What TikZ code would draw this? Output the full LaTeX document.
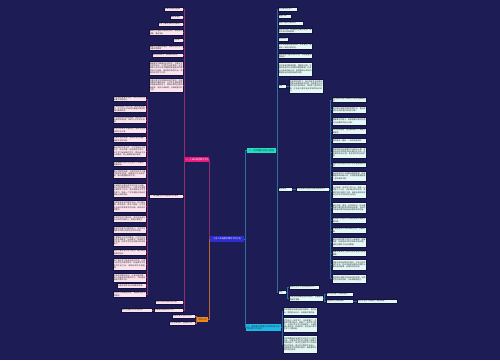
\documentclass[tikz,border=0pt]{standalone}
\usepackage{fontspec}
\newfontfamily\cjk{Noto Sans CJK SC}
\XeTeXlinebreaklocale "zh"
\XeTeXlinebreakskip=0pt plus 1pt
\definecolor{bg}{HTML}{1E1C55}
\definecolor{rootbl}{HTML}{2E2ED0}
\definecolor{pkbr}{HTML}{E8197D}
\definecolor{orbr}{HTML}{F08A1C}
\definecolor{cybr}{HTML}{1FE0C0}
\definecolor{cybrb}{HTML}{1CB8E8}
\definecolor{pkfill}{HTML}{FCE4EF}
\definecolor{cyfill}{HTML}{E4F8F6}
\definecolor{leafline}{HTML}{131140}
\definecolor{pkline}{HTML}{8E2F6E}
\definecolor{cyline}{HTML}{2C6E9E}
\definecolor{orline}{HTML}{B8652E}

\begin{document}
\begin{tikzpicture}[x=1pt, y=-1pt,
    every node/.style={font=\cjk\fontsize{1.9}{2.2}\selectfont, inner sep=0.6pt},
    pk/.style={anchor=north west, fill=pkfill, draw=leafline, line width=0.4pt, align=left, text=black!85},
    cy/.style={pk, fill=cyfill},
    br/.style={minimum height=5pt, inner sep=0.8pt, font=\cjk\fontsize{2.1}{2.5}\selectfont},
    lp/.style={pkline, line width=0.5pt},
    lc/.style={cyline, line width=0.5pt},
    lo/.style={orline, line width=0.5pt}]
  \fill[bg] (0,0) rectangle (500,360);

  % centre and main branches
  \node[br, fill=rootbl, text=white, minimum width=34pt, minimum height=6pt] (root) at (227,239) {小学二年级数学教学工作计划};
  \node[br, fill=pkbr, text=white, minimum width=22pt] (ke) at (197,159.5) {一、上课与课堂教学工作};
  \node[br, fill=orbr, text=black!80, minimum width=11pt] (xq) at (202.5,319.5) {学情分析};
  \node[br, fill=cybr, text=black!80, minimum width=29pt] (mb) at (261.5,150.5) {二、本学期教学目标与措施};
  \node[br, fill=cybrb, text=black!80, text width=33pt, align=left, minimum height=7pt] (cs) at (263.5,327.5) {三、提高教学质量的具体措施与培优补差工作安排};

  % trunks
  \coordinate (tL) at (209,0);
  \coordinate (tR) at (245.5,0);
  \coordinate (tP) at (184,0);
  \coordinate (tQ) at (147.6,0);
  \coordinate (tS) at (153,0);
  \coordinate (tO) at (196,0);
  \coordinate (tM) at (277,0);
  \coordinate (tA) at (287.5,0);
  \coordinate (tB) at (294,0);
  \coordinate (tC) at (330.5,0);
  \coordinate (tD) at (324.5,0);
  \coordinate (tE) at (355,0);
  \coordinate (tF) at (282,0);

  % upper left: classroom teaching
  \node[pk, text width=17.8pt, minimum height=4pt] (p1) at (164,7) {认真钻研教材备课};
  \node[pk, text width=11.8pt, minimum height=3.5pt] (p2) at (170,15) {课前准备好};
  \node[pk, text width=23.8pt, minimum height=3.5pt] (p3) at (158,22) {充分了解学生的学习情况};
  \node[pk, text width=32.8pt, minimum height=6pt] (p4) at (149,29) {备课时注重教学目标的设计，做到目标明确，重点突出};
  \node[pk, text width=8.8pt, minimum height=3.5pt] (p5) at (173,38) {上好课};
  \node[pk, text width=32.8pt, minimum height=5pt] (p6) at (149,45) {课堂上注重创设情境，激发学生的学习兴趣和求知欲};
  \node[pk, text width=29.8pt, minimum height=4pt] (p7) at (152,53) {精心设计练习，做到及时反馈};
  \node[pk, text width=32.8pt, minimum height=14pt] (p8) at (149,61) {课堂教学中要面向全体学生，注重学生的主体地位，让学生在动手操作、自主探索与合作交流中理解和掌握基本的数学知识与技能，体会数学思想方法，养成良好的学习习惯。};
  \node[pk, text width=32.8pt, minimum height=14pt] (p9) at (149,78) {注重培养学生的数感和符号意识，加强口算和估算的训练，让学生在具体情境中理解运算的意义，提高计算的正确率和速度，培养认真审题、仔细检查的好习惯。};
  \node[pk, text width=32.8pt, minimum height=4pt] (p10) at (149,194) {二、课后辅导与作业批改工作要求};
  \node[pk, text width=26.8pt, minimum height=4pt] (p11) at (155,300) {加强与家长的联系和沟通};
  \node[pk, text width=27.8pt, minimum height=3.5pt] (p12) at (154,308) {认真做好课后反思工作};
  \node[pk, text width=29.8pt, minimum height=3.5pt] (q1) at (121,308) {及时记录教学中的得与失};

  % left column
  \node[pk, text width=31.8pt, minimum height=5pt] (l1) at (113,96) {作业设计要有层次性，针对不同学生布置不同的练习。};
  \node[pk, text width=31.8pt, minimum height=7pt] (l2) at (113,105) {认真批改每一次作业，做到全批全改，对于作业中出现的普遍问题及时进行集体讲评。};
  \node[pk, text width=31.8pt, minimum height=7pt] (l3) at (113,116) {对学困生进行面批面改，帮助他们分析错误的原因，及时订正并加以巩固。};
  \node[pk, text width=31.8pt, minimum height=6pt] (l4) at (113,127) {作业书写要求工整规范，培养学生良好的作业习惯。};
  \node[pk, text width=31.8pt, minimum height=6pt] (l5) at (113,136) {控制作业的数量，提高作业的质量，减轻学生的负担。};
  \node[pk, text width=31.8pt, minimum height=12pt] (l6) at (113,145) {做好培优补差工作，对于学有余力的学生，适当布置一些拓展性的练习；对于学习有困难的学生，要多给予关心和鼓励，耐心细致地进行辅导。};
  \node[pk, text width=31.8pt, minimum height=5pt] (l7) at (113,161) {利用课余时间对学生进行个别辅导，查漏补缺。};
  \node[pk, text width=31.8pt, minimum height=9pt] (l8) at (113,169) {建立学困生档案，记录学生的学习情况和进步过程，定期进行分析和总结，及时调整辅导的方法。};
  \node[pk, text width=31.8pt, minimum height=14pt] (l9) at (113,183) {在辅导中注重培养学生的学习兴趣，树立学好数学的信心，引导学生掌握正确的学习方法，逐步提高自主学习的能力，使每一个学生都能在原有的基础上得到发展。};
  \node[pk, text width=31.8pt, minimum height=12pt] (l10) at (113,200) {开展丰富多彩的数学活动，如口算比赛、数学游戏、数学小报等，让学生在活动中感受数学的乐趣，体验成功的喜悦。};
  \node[pk, text width=31.8pt, minimum height=7pt] (l11) at (113,215) {加强学生的口算训练，每天坚持进行五分钟的口算练习，提高计算能力。};
  \node[pk, text width=31.8pt, minimum height=7pt] (l12) at (113,226) {重视学生解决问题的能力，引导学生用数学的眼光观察生活中的问题。};
  \node[pk, text width=31.8pt, minimum height=11pt] (l13) at (113,235) {注重数学与生活的联系，让学生在生活中发现数学、运用数学，体会数学的价值，培养学生的应用意识和实践能力。};
  \node[pk, text width=31.8pt, minimum height=6pt] (l14) at (113,249) {及时了解学生的学习情况，做好单元检测和分析。};
  \node[pk, text width=31.8pt, minimum height=12pt] (l15) at (113,258) {每个单元学习结束后进行检测，认真分析学生的答题情况，找出教学中存在的不足之处，采取有效的补救措施。};
  \node[pk, text width=31.8pt, minimum height=9pt] (l16) at (113,273) {积极参加教研活动，认真听课评课，虚心向有经验的教师学习，不断提高自身的教学水平。};
  \node[pk, text width=27.8pt, minimum height=5pt] (l17) at (117,283) {认真撰写教学反思和教学随笔。};
  \node[pk, text width=31.8pt, minimum height=6pt] (l18) at (113,291) {坚持学习新课程标准，更新教育教学的理念。};

  % lower left: pupils
  \node[pk, text width=21.8pt, minimum height=4pt] (o1) at (172,314) {本班共有学生四十五人};
  \node[pk, text width=24.8pt, minimum height=4pt] (o2) at (169,321) {学生思维活跃，基础较扎实};

  % upper right: aims
  \node[cy, text width=17.8pt, minimum height=3.5pt] (r1) at (278,7) {认识乘法的含义};
  \node[cy, text width=11.8pt, minimum height=3.5pt] (r2) at (278,14) {掌握口诀};
  \node[cy, text width=23.8pt, minimum height=3.5pt] (r3) at (278,21) {熟练口算表内乘除法};
  \node[cy, text width=32.8pt, minimum height=5pt] (r4) at (278,28) {初步认识角，知道角的各部分名称，会用三角尺判断直角。};
  \node[cy, text width=8.8pt, minimum height=4pt] (r5) at (278,37) {认识时间};
  \node[cy, text width=32.8pt, minimum height=6pt] (r6) at (278,43) {认识长度单位厘米和米，初步建立一厘米和一米的长度观念。};
  \node[cy, text width=32.8pt, minimum height=5pt] (r7) at (278,53) {会用刻度尺量物体的长度，会画整厘米的线段。};
  \node[cy, text width=32.8pt, minimum height=14pt] (r8) at (278,62) {经历简单的数据收集、整理的过程，学会用简单的方法收集和整理数据，初步认识简单的统计表，能根据统计表中的数据提出并回答简单的问题。};
  \node[cy, text width=6.8pt, minimum height=4pt] (r9) at (278,84) {态度};
  \node[cy, text width=32.8pt, minimum height=14pt] (r9a) at (289,79) {在老师的指导下，能从现实生活中发现并提出简单的数学问题，感受数学与日常生活的密切联系，体验学习数学的乐趣，对身边与数学有关的事物有好奇心。};
  \node[cy, text width=12.8pt, minimum height=4pt] (r10) at (278,187) {重点难点};
  \node[cy, text width=31.8pt, minimum height=4pt] (r10a) at (296,187) {本学期教学的重点和难点具体如下};
  \node[cy, text width=6.8pt, minimum height=4pt] (r11) at (278,290) {措施};
  \node[cy, text width=28.8pt, minimum height=4pt] (r11a) at (289,285) {加强学生学习习惯的培养工作};
  \node[cy, text width=32.8pt, minimum height=6pt] (r11b) at (289,295) {认真钻研新课程标准和教材，把握教材的编写意图。};
  \node[cy, text width=25.8pt, minimum height=4pt] (r11c) at (326,292) {精心设计每一节课的教学};
  \node[cy, text width=25.8pt, minimum height=4pt] (r11d) at (326,299) {注重知识之间的联系};
  \node[cy, text width=38.8pt, minimum height=4pt] (r11e) at (357,299) {关注学生的个体差异，因材施教};

  % right column
  \node[cy, text width=32.8pt, minimum height=5pt] (c1) at (332,97) {表内乘法的意义及乘法口诀的理解和记忆。};
  \node[cy, text width=32.8pt, minimum height=7pt] (c2) at (332,106) {两位数加减两位数的笔算方法，重点是进位加法和退位减法的计算。};
  \node[cy, text width=32.8pt, minimum height=8pt] (c3) at (332,117) {理解乘法的意义，能根据乘法算式的意义列出算式并进行计算。};
  \node[cy, text width=32.8pt, minimum height=6pt] (c4) at (332,128) {认识角和直角，能正确判断一个角是不是直角。};
  \node[cy, text width=32.8pt, minimum height=5pt] (c5) at (332,138) {初步建立一厘米、一米的长度观念。};
  \node[cy, text width=32.8pt, minimum height=11pt] (c6) at (332,147) {能够熟练地运用乘法口诀进行计算，并能运用所学的乘法知识解决生活中一些简单的实际问题，体会数学的应用价值。};
  \node[cy, text width=32.8pt, minimum height=5pt] (c7) at (332,162) {观察物体时能辨认从不同位置看到的形状。};
  \node[cy, text width=32.8pt, minimum height=10pt] (c8) at (332,171) {会用简单的方法收集和整理数据，能够看懂简单的统计表，并能根据数据回答一些简单的问题。};
  \node[cy, text width=32.8pt, minimum height=14pt] (c9) at (332,184) {认识钟面，会读写几时几分，知道一小时等于六十分，初步建立时间观念，养成珍惜时间的好习惯，能够合理地安排自己的学习时间和生活时间。};
  \node[cy, text width=32.8pt, minimum height=11pt] (c10) at (332,202) {通过观察、猜测、实验等活动，找出最简单的事物的排列数和组合数，初步经历简单的排列和组合规律的发现过程。};
  \node[cy, text width=32.8pt, minimum height=6pt] (c11) at (332,217) {能用解决问题的方法解答简单的两步计算问题。};
  \node[cy, text width=32.8pt, minimum height=6pt] (c12) at (332,227) {掌握用乘法口诀求商的方法，正确计算。};
  \node[cy, text width=32.8pt, minimum height=10pt] (c13) at (332,237) {解决问题时要引导学生认真审题，理解题意，找出题目中的已知条件和问题，选择正确的方法进行解答。};
  \node[cy, text width=32.8pt, minimum height=6pt] (c14) at (332,250) {理解长度单位之间的关系并能进行简单换算。};
  \node[cy, text width=32.8pt, minimum height=11pt] (c15) at (332,259) {在解决实际问题的过程中，学会与同伴合作交流，初步学会表达解决问题的大致过程和结果，获得成功的体验。};
  \node[cy, text width=32.8pt, minimum height=9pt] (c16) at (332,274) {发现图形和数字的简单排列规律，培养学生初步的观察、分析和推理能力。};

  % lower right: measures
  \node[cy, text width=32.8pt, minimum height=8pt] (b1) at (283,307) {本学期教学内容包括表内乘法、表内除法、角的初步认识、长度单位等内容。};
  \node[cy, text width=32.8pt, minimum height=15pt] (b2) at (283,317) {学生经过一年的学习，已经掌握了一些基本的数学知识，具备了一定的学习能力，大部分学生学习态度端正，上课能够认真听讲，积极思考，但也有少数学生学习习惯较差。};
  \node[cy, text width=32.8pt, minimum height=18pt] (b3) at (283,335) {本学期要继续加强学生良好学习习惯的培养，注重培养学生的计算能力和解决问题的能力，使学生在数学学习中获得成功的体验，建立学好数学的自信心，全面提高学生的数学素养，确保教学任务的顺利完成。};

  % connectors
  \draw[lp] (root.west) -- (root.west -| tL) |- (ke.east);
  \draw[lo] (root.west) -- (root.west -| tL) |- (xq.east);
  \draw[lc] (root.east) -- (root.east -| tR) |- (mb.west);
  \draw[lc] (root.east) -- (root.east -| tR) |- (cs.west);
  \foreach \i in {1,...,12}
    \draw[lp] (ke.west) -- (ke.west -| tP) |- (p\i.east);
  \foreach \i in {1,...,18}
    \draw[lp] (p10.west) -- (p10.west -| tQ) |- (l\i.east);
  \draw[lp] (p12.west) -- (q1.east);
  \foreach \i in {1,2}
    \draw[lo] (xq.west) -- (xq.west -| tO) |- (o\i.east);
  \foreach \i in {1,...,11}
    \draw[lc] (mb.east) -- (mb.east -| tM) |- (r\i.west);
  \draw[lc] (r9.east) -- (r9a.west);
  \draw[lc] (r10.east) -- (r10a.west);
  \foreach \i in {1,...,16}
    \draw[lc] (r10a.east) -- (r10a.east -| tC) |- (c\i.west);
  \draw[lc] (r11.east) -- (r11.east -| tA) |- (r11a.west);
  \draw[lc] (r11.east) -- (r11.east -| tA) |- (r11b.west);
  \draw[lc] (r11b.east) -- (r11b.east -| tD) |- (r11c.west);
  \draw[lc] (r11b.east) -- (r11b.east -| tD) |- (r11d.west);
  \draw[lc] (r11d.east) -- (r11e.west);
  \foreach \i in {1,2,3}
    \draw[lc] (cs.east) -- (cs.east -| tF) |- (b\i.west);
\end{tikzpicture}
\end{document}
